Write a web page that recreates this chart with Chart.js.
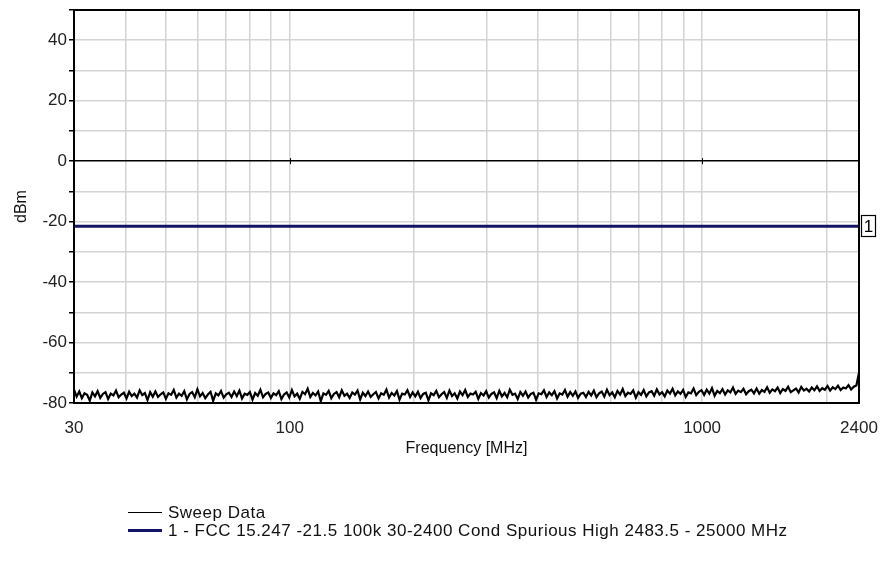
<!DOCTYPE html>
<html>
<head>
<meta charset="utf-8">
<script src="https://cdn.jsdelivr.net/npm/chart.js@4"></script>
<style>
  body { margin: 0; background: #fff; }
  #wrap { width: 881px; height: 570px; }
</style>
</head>
<body>
<div id="wrap"><canvas id="sweepChart" width="881" height="570"></canvas></div>
<script>
// sweep settings (MHz)
const sweepStart = 30;
const sweepStop = 2400;

const sweepLevels = [
  -75.6,-77.9,-76.2,-78.4,-76.8,-77.3,-79.2,-76.5,-77.8,-76.1,-78.3,-77.0,-76.4,-78.7,-76.9,-77.5,-75.9,-78.1,-77.2,-76.6,
  -78.5,-76.3,-77.7,-76.9,-78.2,-75.8,-77.4,-76.7,-79.0,-76.4,-77.9,-76.2,-78.0,-77.1,-76.5,-78.6,-76.8,-77.3,-75.7,-78.2,
  -76.9,-77.6,-76.1,-78.8,-77.0,-76.4,-78.1,-75.5,-77.8,-76.7,-78.4,-77.2,-76.3,-79.3,-76.8,-77.5,-76.0,-78.2,-77.1,-76.6,
  -78.0,-76.2,-77.7,-75.9,-78.5,-76.9,-77.3,-76.4,-78.9,-76.7,-77.6,-75.6,-78.1,-77.0,-76.5,-78.3,-76.8,-77.4,-76.1,-78.7,
  -77.2,-76.5,-78.2,-75.7,-77.8,-76.9,-78.6,-76.3,-77.1,-75.3,-78.0,-76.7,-77.5,-76.2,-79.4,-76.8,-77.3,-76.0,-78.4,-77.0,
  -76.4,-78.1,-75.8,-77.6,-76.9,-78.3,-76.5,-77.2,-75.9,-78.8,-76.6,-77.7,-76.2,-78.0,-77.1,-76.4,-78.5,-76.8,-77.3,-75.6,
  -78.2,-76.7,-77.5,-76.1,-78.9,-76.9,-77.2,-75.8,-78.0,-76.5,-77.8,-76.3,-78.4,-77.0,-76.6,-79.1,-76.8,-77.4,-76.0,-78.1,
  -77.1,-76.4,-78.3,-75.9,-77.7,-76.8,-78.5,-76.2,-77.4,-75.7,-78.0,-76.9,-77.2,-76.3,-78.6,-76.7,-77.5,-76.1,-78.2,-77.0,
  -76.5,-78.4,-76.0,-77.8,-76.7,-78.1,-75.6,-77.3,-76.9,-78.7,-76.4,-77.6,-76.2,-78.2,-77.0,-76.6,-78.9,-76.8,-77.1,-75.8,
  -78.0,-76.5,-77.4,-76.1,-78.5,-76.8,-77.2,-75.7,-77.9,-76.4,-77.6,-76.2,-78.3,-76.9,-76.6,-78.0,-76.3,-77.5,-75.9,-78.1,
  -76.8,-76.2,-77.9,-75.6,-77.4,-76.5,-78.1,-76.0,-77.2,-75.4,-77.7,-76.6,-77.0,-75.8,-78.2,-76.4,-77.3,-75.7,-77.8,-76.5,
  -76.1,-77.6,-75.5,-77.2,-76.4,-77.8,-75.9,-76.9,-75.3,-77.5,-76.2,-77.0,-75.7,-78.0,-76.5,-76.8,-75.2,-77.4,-76.3,-75.8,
  -77.3,-75.6,-76.9,-75.1,-77.6,-76.0,-76.7,-75.4,-77.2,-75.8,-76.5,-74.9,-77.0,-75.9,-76.4,-75.3,-77.1,-76.1,-75.6,-76.8,
  -75.2,-76.9,-75.7,-76.3,-74.8,-76.6,-75.5,-76.1,-74.9,-76.7,-75.4,-76.0,-74.6,-76.4,-75.8,-75.2,-76.5,-74.7,-75.9,-75.3,
  -76.2,-74.9,-75.8,-74.5,-76.0,-75.1,-75.6,-74.4,-75.9,-74.8,-75.4,-74.3,-75.7,-74.9,-75.2,-74.1,-75.5,-74.6,-74.2,-70.0
];

// limit line 1
const limitFreq = [30, 2400];
const limitLevel = [-21.5, -21.5];
const limitTag = "1";

// axes
const xGridFreqs = [30, 40, 50, 60, 70, 80, 90, 100, 200, 300, 400, 500, 600, 700, 800, 900, 1000, 2000, 2400];
const xLabelFreqs = [30, 100, 1000, 2400];
const zeroLineMarks = [100, 1000];
const yMin = -80, yMax = 50;

const legendNames = [
  "Sweep Data",
  "1 - FCC 15.247 -21.5 100k 30-2400 Cond Spurious High 2483.5 - 25000 MHz"
];

const sweepPoints = sweepLevels.map((v, i) => ({
  x: sweepStart * Math.pow(sweepStop / sweepStart, i / (sweepLevels.length - 1)),
  y: v
}));
const limitPoints = limitFreq.map((f, i) => ({ x: f, y: limitLevel[i] }));

const FONT = "'Liberation Sans', Arial, sans-serif";

// frame, zero line marks, limit tag and bottom legend
const extras = {
  id: "extras",
  afterDraw(chart) {
    const ctx = chart.ctx;
    const a = chart.chartArea;
    const xs = chart.scales.x, ys = chart.scales.y;
    ctx.save();
    ctx.strokeStyle = "#000";
    ctx.lineWidth = 2;
    ctx.strokeRect(a.left, a.top, a.right - a.left, a.bottom - a.top);

    // small marks on zero line
    const y0 = ys.getPixelForValue(0);
    ctx.lineWidth = 1;
    zeroLineMarks.forEach(f => {
      const px = Math.round(xs.getPixelForValue(f)) + 0.5;
      ctx.beginPath();
      ctx.moveTo(px, y0 - 3);
      ctx.lineTo(px, y0 + 3);
      ctx.stroke();
    });

    // limit tag box
    const yl = Math.round(ys.getPixelForValue(limitLevel[1]));
    ctx.fillStyle = "#fff";
    ctx.fillRect(a.right + 2, yl - 11, 15, 22);
    ctx.lineWidth = 1.2;
    ctx.strokeRect(a.right + 2.5, yl - 10.5, 14, 21);
    ctx.fillStyle = "#000";
    ctx.font = "17px " + FONT;
    ctx.textAlign = "center";
    ctx.textBaseline = "middle";
    ctx.fillText(limitTag, a.right + 9.5, yl + 1);

    // legend
    ctx.textAlign = "left";
    ctx.font = "17px " + FONT;
    ctx.letterSpacing = "0.5px";
    chart.data.datasets.forEach((ds, i) => {
      const ly = 512 + i * 18;
      ctx.strokeStyle = ds.borderColor;
      ctx.lineWidth = i === 0 ? 1 : 3;
      ctx.beginPath();
      ctx.moveTo(128, ly + 0.5);
      ctx.lineTo(162, ly + 0.5);
      ctx.stroke();
      ctx.fillStyle = "#111";
      ctx.fillText(legendNames[i], 168, ly + 1);
    });
    ctx.restore();
  }
};

const sweepChart = new Chart(document.getElementById("sweepChart"), {
  type: "line",
  data: {
    datasets: [
      {
        label: legendNames[0],
        data: sweepPoints,
        borderColor: "#000000",
        borderWidth: 2.2,
        pointRadius: 0,
        tension: 0,
        order: 1
      },
      {
        label: legendNames[1],
        data: limitPoints,
        borderColor: "#141466",
        borderWidth: 3,
        pointRadius: 0,
        order: 2
      }
    ]
  },
  options: {
    responsive: false,
    animation: false,
    layout: { padding: { left: 0, top: 10, right: 22, bottom: 109 } },
    plugins: {
      legend: { display: false },
      tooltip: { enabled: false }
    },
    scales: {
      x: {
        type: "logarithmic",
        min: sweepStart,
        max: sweepStop,
        afterBuildTicks: s => { s.ticks = xGridFreqs.map(v => ({ value: v })); },
        afterFit: s => { s.height = 58; s.paddingLeft = 0; s.paddingRight = 0; },
        ticks: {
          autoSkip: false,
          maxRotation: 0,
          padding: 15,
          color: "#222",
          font: { family: FONT, size: 17 },
          callback: v => (xLabelFreqs.includes(v) ? String(v) : "")
        },
        grid: { color: "#d3d3d3", lineWidth: 1.5, drawTicks: false },
        border: { color: "#000", width: 2 },
        title: {
          display: true,
          text: "Frequency [MHz]",
          color: "#111",
          font: { family: FONT, size: 16 },
          padding: { top: 1, bottom: 3 }
        }
      },
      y: {
        min: yMin,
        max: yMax,
        afterFit: s => { s.width = 74; s.paddingTop = 0; s.paddingBottom = 0; },
        ticks: {
          stepSize: 10,
          padding: 2,
          color: "#222",
          font: { family: FONT, size: 17 },
          callback: v => (v % 20 === 0 ? String(v) : "")
        },
        grid: {
          color: c => (c.tick && c.tick.value === 0 ? "#000" : "#d3d3d3"),
          lineWidth: 1.5,
          tickColor: "#000",
          tickLength: 5
        },
        border: { color: "#000", width: 2 },
        title: {
          display: true,
          text: "dBm",
          color: "#111",
          font: { family: FONT, size: 16 },
          padding: { top: 12, bottom: 0 }
        }
      }
    }
  },
  plugins: [extras]
});
</script>
</body>
</html>
